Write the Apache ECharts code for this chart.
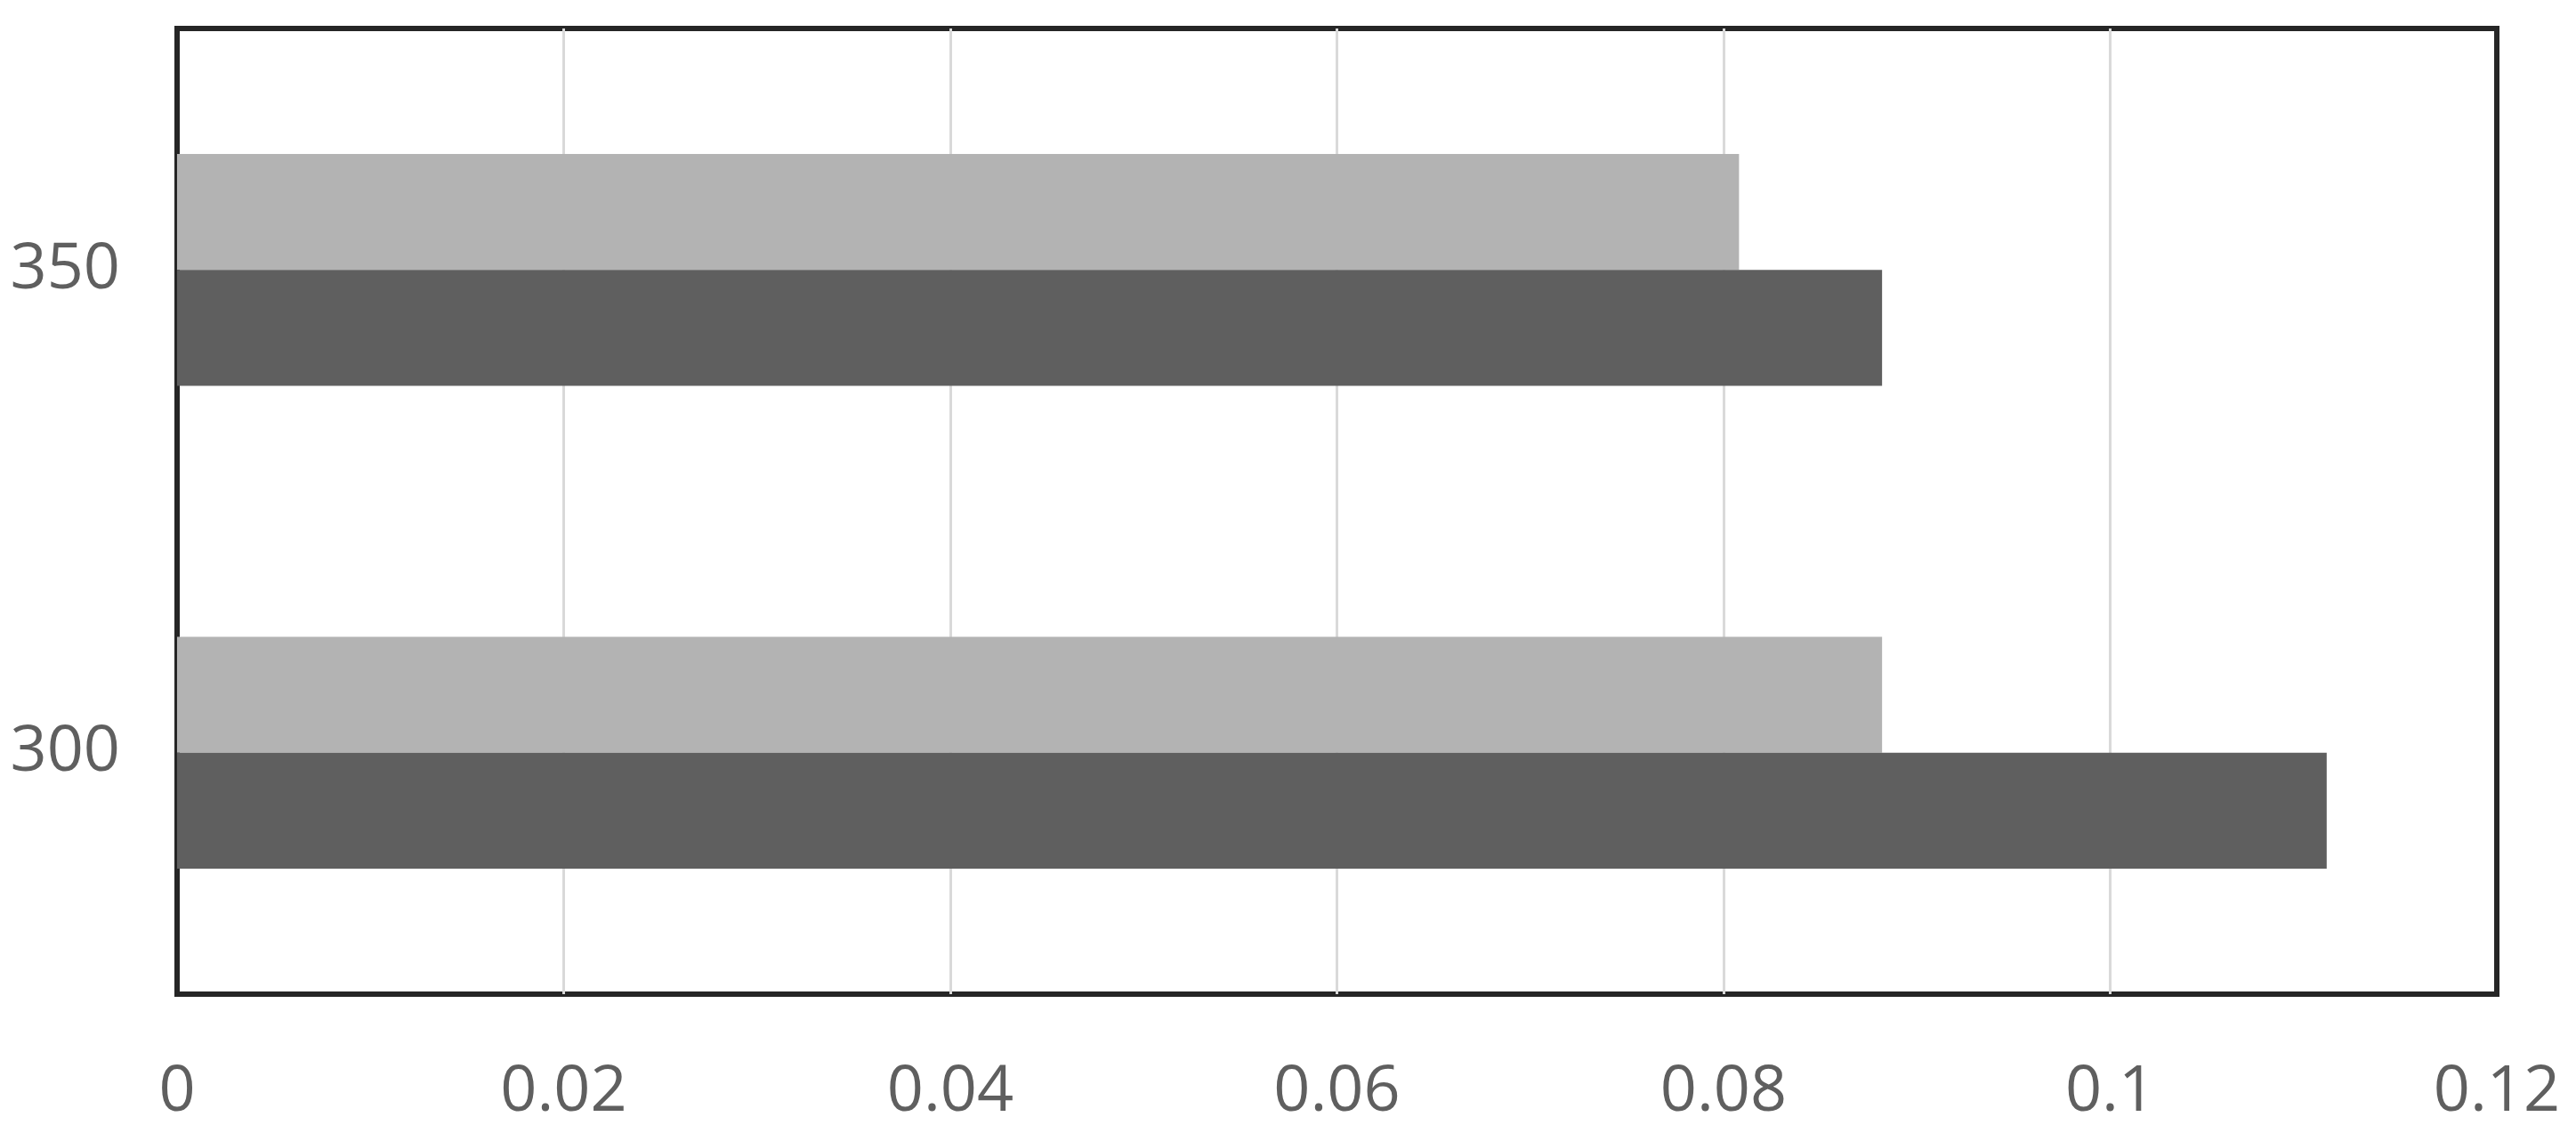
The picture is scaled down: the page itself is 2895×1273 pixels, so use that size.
<!DOCTYPE html>
<html>
<head>
<meta charset="utf-8">
<style>
  html, body { margin: 0; padding: 0; background: #fff; }
  #chart { width: 2895px; height: 1273px; }
</style>
<script src="https://cdn.jsdelivr.net/npm/echarts@6/dist/echarts.min.js"></script>
</head>
<body>
<div id="chart"></div>
<script>
var categories = ['300', '350'];
var darkValues = [0.1112, 0.0882];
var lightValues = [0.0882, 0.0808];
var xTicks = { min: 0, max: 0.12, interval: 0.02 };

var chart = echarts.init(document.getElementById('chart'));

chart.setOption({
	animation: false,
	textStyle: {
		fontFamily: '"Open Sans", sans-serif'
	},
	grid: {
		left: 199,
		right: 89,
		top: 32,
		bottom: 156,
		show: true,
		borderColor: '#262626',
		borderWidth: 6,
		backgroundColor: '#fff'
	},
	xAxis: {
		type: 'value',
		min: xTicks.min,
		max: xTicks.max,
		interval: xTicks.interval,
		axisLine: { show: false },
		axisTick: { show: false },
		splitLine: {
			show: true,
			showMinLine: false,
			showMaxLine: false,
			lineStyle: { color: '#d9d9d9', width: 3 }
		},
		axisLabel: {
			fontSize: 72,
			color: '#5f5f5f',
			margin: 74,
			formatter: function(v) {
				return String(parseFloat(v.toFixed(4)));
			}
		}
	},
	yAxis: {
		type: 'category',
		data: categories,
		axisLine: { show: false },
		axisTick: { show: false },
		axisLabel: {
			fontSize: 72,
			color: '#5f5f5f',
			margin: 64
		}
	},
	series: [
		{
			name: 'light',
			type: 'bar',
			data: lightValues,
			itemStyle: { color: '#b3b3b3' },
			barGap: '0%',
			barCategoryGap: '52%'
		},
		{
			name: 'dark',
			type: 'bar',
			data: darkValues,
			itemStyle: { color: '#5f5f5f' },
			barGap: '0%',
			barCategoryGap: '52%'
		}
	]
});
</script>
</body>
</html>
